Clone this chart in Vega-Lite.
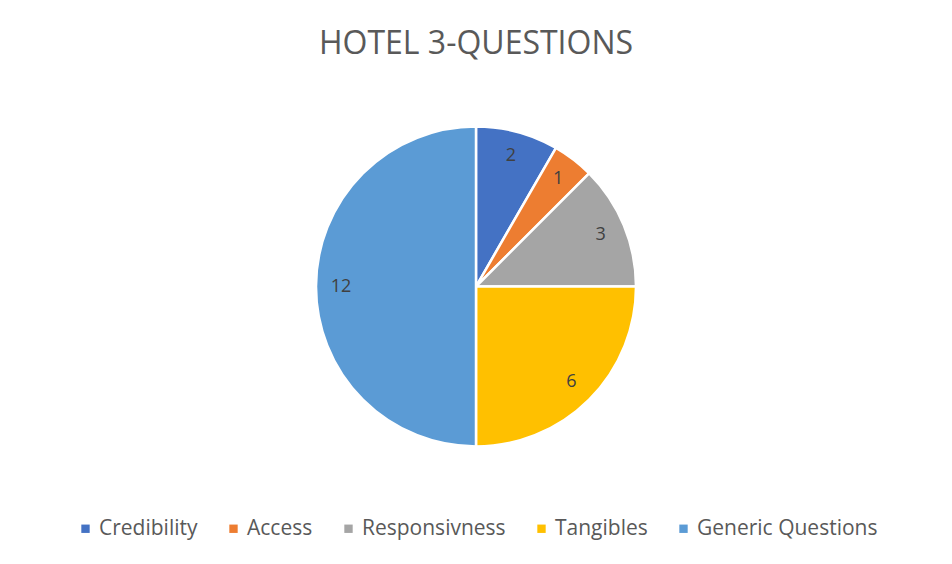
{
  "$schema": "https://vega.github.io/schema/vega-lite/v6.json",
  "width": 948,
  "height": 563,
  "padding": {"top": 1, "left": 2, "right": 2, "bottom": 0},
  "autosize": {"type": "none"},
  "background": "white",
  "title": {
    "text": "HOTEL 3-QUESTIONS",
    "font": "Open Sans",
    "fontSize": 32,
    "fontWeight": "normal",
    "color": "#595959",
    "anchor": "middle",
    "offset": -60
  },
  "data": {
    "values": [
      {"category": "Credibility", "value": 2, "order": 1},
      {"category": "Access", "value": 1, "order": 2},
      {"category": "Responsivness", "value": 3, "order": 3},
      {"category": "Tangibles", "value": 6, "order": 4},
      {"category": "Generic Questions", "value": 12, "order": 5}
    ]
  },
  "encoding": {
    "theta": {"field": "value", "type": "quantitative", "stack": true},
    "order": {"field": "order", "type": "quantitative"},
    "color": {
      "field": "category",
      "type": "nominal",
      "scale": {
        "domain": ["Credibility", "Access", "Responsivness", "Tangibles", "Generic Questions"],
        "range": ["#4472C4", "#ED7D31", "#A5A5A5", "#FFC000", "#5B9BD5"]
      },
      "legend": {
        "title": null,
        "orient": "bottom",
        "direction": "horizontal",
        "symbolType": "square",
        "symbolSize": 70,
        "symbolStrokeWidth": 0,
        "labelFont": "Open Sans",
        "labelFontSize": 21,
        "labelColor": "#595959",
        "labelLimit": 400,
        "columnPadding": 25,
        "labelOffset": 3,
        "offset": -46
      }
    }
  },
  "layer": [
    {
      "mark": {"type": "arc", "outerRadius": 160, "stroke": "white", "strokeWidth": 2.5, "yOffset": 4}
    },
    {
      "mark": {"type": "text", "radius": 135, "font": "Open Sans", "fontSize": 18, "color": "#404040", "yOffset": 4},
      "encoding": {
        "text": {"field": "value", "type": "quantitative"},
        "color": {"value": "#404040"}
      }
    }
  ],
  "config": {
    "view": {"stroke": "#D0D0D0", "strokeWidth": 1.2},
    "legend": {"layout": {"bottom": {"anchor": "middle"}}}
  }
}
